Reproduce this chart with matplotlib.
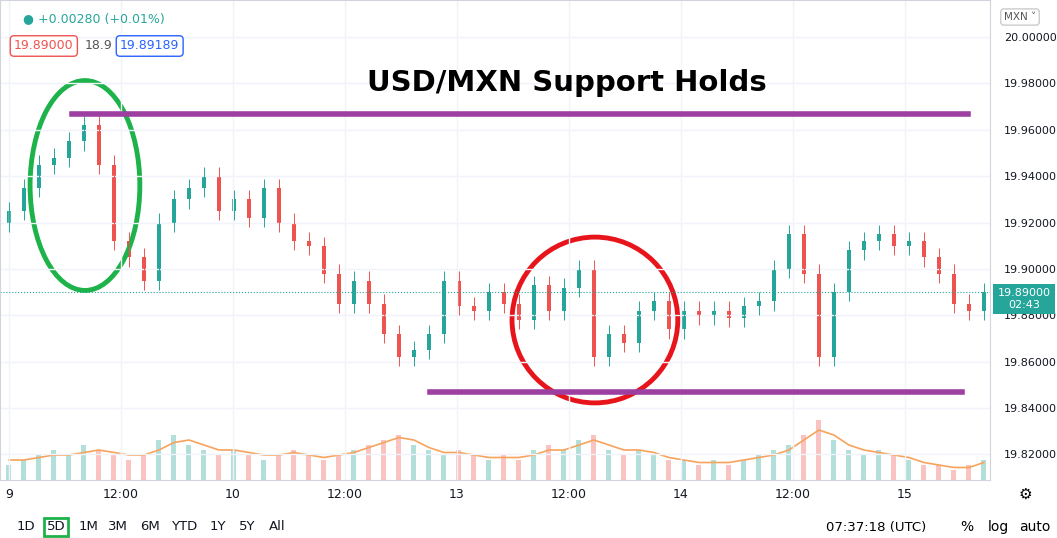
import matplotlib
matplotlib.use("Agg")
import matplotlib.pyplot as plt
from matplotlib.patches import Ellipse
import numpy as np

closes = [19.925,19.935,19.945,19.948,19.955,19.962,19.945,19.912,19.905,19.895,19.92,19.93,19.935,19.94,19.925,19.93,19.922,19.935,19.92,19.912,19.91,19.898,19.885,19.895,19.885,19.872,19.862,19.865,19.872,19.895,19.884,19.882,19.89,19.885,19.878,19.893,19.882,19.892,19.9,19.862,19.872,19.868,19.882,19.886,19.874,19.882,19.88,19.882,19.879,19.884,19.886,19.9,19.915,19.898,19.862,19.89,19.908,19.912,19.915,19.91,19.912,19.905,19.898,19.885,19.882,19.89]
opens = [19.920] + closes[:-1]
volumes = [3,4,5,6,5,7,6,5,4,5,8,9,7,6,5,6,5,4,5,6,5,4,5,6,7,8,9,7,6,5,6,5,4,5,4,6,7,6,8,9,6,5,6,5,4,4,3,4,3,4,5,6,7,9,12,8,6,5,6,5,4,3,3,2,3,4]
vol_ma = [4,4,4.5,5,5,5.5,6,5.5,5,5,6,7.5,8,7,6,6,5.5,5,5,5.5,5,4.5,5,5.5,6.5,7.5,8.5,8,6.5,5.5,5.5,5,4.5,4.5,4.5,5,6,6,7,8,7,6,6,5.5,4.5,4,3.5,3.5,3.5,4,4.5,5,6,8,10,9,7,6,5.5,5,4.5,3.5,3,2.5,2.5,3.5]
xticks = [0, 1, 2, 3, 4, 5, 6, 7, 8]
xticklabels = ["9", "12:00", "10", "12:00", "13", "12:00", "14", "12:00", "15"]
yticks = [19.82, 19.84, 19.86, 19.88, 19.90, 19.92, 19.94, 19.96, 19.98, 20.00]

n = len(closes)
xs = np.arange(n) * 15 / 112.0
green, red = "#26a69a", "#ef5350"

fig = plt.figure(figsize=(10.57, 5.38), dpi=100)
ax = fig.add_axes([0, 58/538, 990/1057, 1 - 58/538])
ax.set_xlim(-0.08, 8.76)
ax.set_ylim(19.809, 20.016)

axv = ax.twinx()
axv.set_ylim(0, max(volumes) * 8)
for i in range(n):
    col = green if closes[i] >= opens[i] else red
    axv.bar(xs[i], volumes[i], width=0.045, color=col, alpha=0.35)
axv.plot(xs, vol_ma, color="#f7a35c", lw=1.2)
axv.axis("off")

for i in range(n):
    o, c = opens[i], closes[i]
    col = green if c >= o else red
    hi, lo = max(o, c) + 0.004, min(o, c) - 0.004
    ax.vlines(xs[i], lo, hi, color=col, lw=0.7)
    ax.bar(xs[i], max(abs(c - o), 0.0005), bottom=min(o, c), width=0.04, color=col)

ax.axhline(19.89, color="#26a69a", ls=":", lw=0.8)
ax.grid(color="#f0f3fa", lw=1)
ax.set_xticks(xticks)
ax.set_xticklabels(xticklabels, fontsize=9, color="#131722")
ax.yaxis.tick_right()
ax.set_yticks(yticks)
ax.set_yticklabels([f"{v:.5f}" for v in yticks], fontsize=8, color="#131722")
ax.tick_params(axis="y", length=0, pad=10)
ax.tick_params(axis="x", length=0, pad=6)
for s in ax.spines.values():
    s.set_color("#d1d4dc")
ax.set_zorder(axv.get_zorder() + 1)
ax.patch.set_visible(False)

# annotations
ax.plot([(72-9)/112, (968-9)/112], [19.967, 19.967], color="#9c3fa0", lw=4)
ax.plot([(430-9)/112, (962-9)/112], [19.847, 19.847], color="#9c3fa0", lw=4)
ax.add_patch(Ellipse(((85-9)/112, 19.936), 0.98, 0.0905, fill=False, ec="#1db34a", lw=3.5))
ax.add_patch(Ellipse(((595-9)/112, 19.878), 1.48, 0.0715, fill=False, ec="#e8141c", lw=3.5))
fig.text(567/1057, 1 - 83/538, "USD/MXN Support Holds", ha="center", va="center",
         fontsize=21, fontweight="bold", color="black")

# price tag
fig.text(1024/1057, 1 - 299/538, "19.89000\n02:43", ha="center", va="center", fontsize=8,
         color="white", zorder=10,
         bbox=dict(boxstyle="square,pad=0.4", fc="#26a69a", ec="none"))
fig.text(1020/1057, 1 - 17/538, "MXN ˅", ha="center", va="center", fontsize=7.5, color="#555",
         bbox=dict(boxstyle="round,pad=0.3", fc="white", ec="#ccc"))

# top-left info
fig.text(38/1057, 1 - 19/538, "+0.00280 (+0.01%)", fontsize=9, color="#26a69a", va="center")
fig.text(22/1057, 1 - 19/538, "●", fontsize=9, color="#26a69a", va="center")
fig.text(14/1057, 1 - 46/538, "19.89000", fontsize=9, color="#ef5350", va="center",
         bbox=dict(boxstyle="round,pad=0.3", fc="white", ec="#ef5350"))
fig.text(85/1057, 1 - 46/538, "18.9", fontsize=9, color="#555", va="center")
fig.text(120/1057, 1 - 46/538, "19.89189", fontsize=9, color="#2962ff", va="center",
         bbox=dict(boxstyle="round,pad=0.3", fc="white", ec="#2962ff"))

# bottom toolbar
btns = [("1D", 26), ("5D", 56), ("1M", 88), ("3M", 118), ("6M", 150), ("YTD", 184), ("1Y", 218), ("5Y", 247), ("All", 277)]
for t, px in btns:
    kw = {}
    if t == "5D":
        kw = dict(bbox=dict(boxstyle="square,pad=0.2", fc="white", ec="#1db34a", lw=2))
    fig.text(px/1057, 1 - 527/538, t, fontsize=9.5, ha="center", va="center", color="#131722", **kw)
fig.text(876/1057, 1 - 527/538, "07:37:18 (UTC)", fontsize=9.5, ha="center", va="center")
fig.text(967/1057, 1 - 527/538, "%", fontsize=10, ha="center", va="center")
fig.text(998/1057, 1 - 527/538, "log", fontsize=10, ha="center", va="center")
fig.text(1035/1057, 1 - 527/538, "auto", fontsize=10, ha="center", va="center")
fig.text(1025/1057, 1 - 494/538, "⚙", fontsize=11, ha="center", va="center")
fig.savefig("out.png", dpi=100)
